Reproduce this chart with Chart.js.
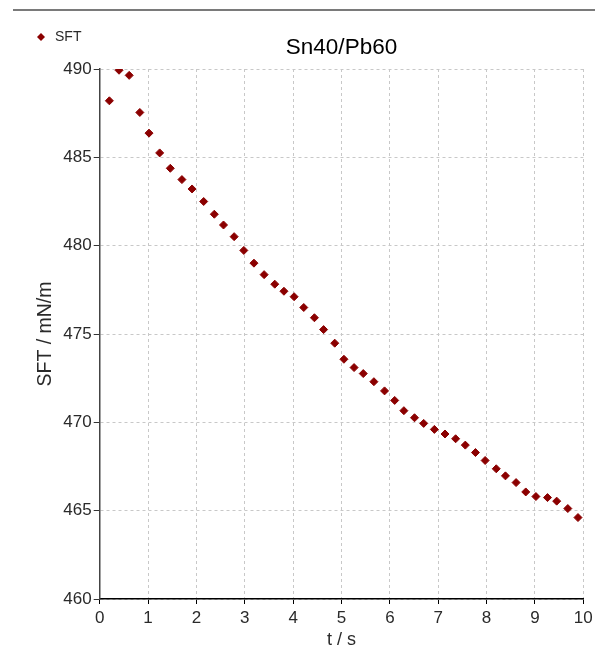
<!DOCTYPE html>
<html lang="en">
  <head>
    <meta charset="UTF-8" />
    <title>Sn40/Pb60</title>
    <script src="https://cdn.jsdelivr.net/npm/chart.js"></script>
    <style>
      html, body { margin: 0; padding: 0; background: #fff; }
    </style>
  </head>
  <body>
    <canvas id="sftChart" width="595" height="650"></canvas>

    <script>
      // time (s) and surface tension (mN/m)
      const times = [
        0.20, 0.40, 0.61, 0.83, 1.02, 1.24, 1.46, 1.70, 1.91, 2.15,
        2.37, 2.56, 2.78, 2.98, 3.19, 3.40, 3.62, 3.81, 4.02, 4.22,
        4.44, 4.63, 4.86, 5.05, 5.26, 5.45, 5.67, 5.89, 6.10, 6.29,
        6.51, 6.70, 6.92, 7.14, 7.36, 7.56, 7.77, 7.97, 8.20, 8.39,
        8.61, 8.81, 9.02, 9.26, 9.45, 9.68, 9.89,
      ];
      const sft = [
        488.20, 489.93, 489.64, 487.54, 486.37, 485.25, 484.38, 483.74, 483.21, 482.50,
        481.78, 481.17, 480.51, 479.73, 479.01, 478.36, 477.82, 477.42, 477.11, 476.50,
        475.92, 475.25, 474.48, 473.57, 473.10, 472.76, 472.30, 471.78, 471.24, 470.66,
        470.26, 469.94, 469.60, 469.34, 469.07, 468.71, 468.29, 467.84, 467.37, 466.97,
        466.59, 466.06, 465.80, 465.74, 465.54, 465.12, 464.61,
      ];
      const xTicks = [0, 1, 2, 3, 4, 5, 6, 7, 8, 9, 10];
      const yTicks = [460, 465, 470, 475, 480, 485, 490];

      const FONT = '"Liberation Sans", Arial, sans-serif';
      const TEXT = '#2a2a2a';
      const RED = '#8b0000';

      // top rule + legend in the top-left corner
      const decorations = {
        id: 'decorations',
        afterDraw(chart) {
          const ctx = chart.ctx;
          ctx.save();
          ctx.strokeStyle = '#7a7a7a';
          ctx.lineWidth = 2;
          ctx.beginPath();
          ctx.moveTo(13, 10);
          ctx.lineTo(595, 10);
          ctx.stroke();

          const ds = chart.data.datasets[0];
          ctx.fillStyle = ds.backgroundColor;
          ctx.beginPath();
          ctx.moveTo(41, 33);
          ctx.lineTo(45, 37);
          ctx.lineTo(41, 41);
          ctx.lineTo(37, 37);
          ctx.closePath();
          ctx.fill();

          ctx.fillStyle = TEXT;
          ctx.font = '14px ' + FONT;
          ctx.textBaseline = 'middle';
          ctx.fillText(ds.label, 55, 37);
          ctx.restore();
        },
      };

      const ctxSft = document.getElementById('sftChart').getContext('2d');
      const sftChart = new Chart(ctxSft, {
        type: 'scatter',
        data: {
          datasets: [
            {
              label: 'SFT',
              data: times.map((t, i) => ({ x: t, y: sft[i] })),
              backgroundColor: RED,
              borderColor: RED,
              borderWidth: 1,
              pointStyle: 'rectRot',
              pointRadius: 4,
            },
          ],
        },
        options: {
          responsive: false,
          animation: false,
          layout: {
            padding: { left: 0, right: 11.7, top: 0, bottom: 0 },
          },
          plugins: {
            legend: { display: false },
            tooltip: { enabled: false },
            title: {
              display: true,
              fullSize: false,
              text: 'Sn40/Pb60',
              color: '#000',
              font: { family: FONT, size: 22.5, weight: 'normal' },
              padding: { top: 34.5, bottom: 7.5 },
            },
          },
          scales: {
            x: {
              type: 'linear',
              min: 0,
              max: 10,
              afterBuildTicks: (axis) => {
                axis.ticks = xTicks.map((v) => ({ value: v }));
              },
              afterFit: (axis) => {
                axis.height = 51;
                axis.paddingLeft = 0;
                axis.paddingRight = 0;
              },
              ticks: {
                color: TEXT,
                font: { family: FONT, size: 17 },
                padding: 4,
                maxRotation: 0,
                autoSkip: false,
              },
              grid: {
                color: '#c8c8c8',
                tickColor: '#000',
                tickLength: 5,
              },
              border: { color: '#000', width: 1.5, dash: [3, 3] },
              title: {
                display: true,
                text: 't / s',
                color: TEXT,
                font: { family: FONT, size: 18 },
                padding: { top: 0, bottom: -1 },
              },
            },
            y: {
              type: 'linear',
              min: 460,
              max: 490,
              afterBuildTicks: (axis) => {
                axis.ticks = yTicks.map((v) => ({ value: v }));
              },
              afterFit: (axis) => {
                axis.width = 99.7;
                axis.paddingTop = 0;
                axis.paddingBottom = 0;
              },
              ticks: {
                color: TEXT,
                font: { family: FONT, size: 17 },
                padding: 2,
                autoSkip: false,
              },
              grid: {
                color: '#c8c8c8',
                tickColor: '#333',
                tickLength: 6,
              },
              border: { color: '#444', width: 1.5, dash: [3, 3] },
              title: {
                display: true,
                text: 'SFT / mN/m',
                color: TEXT,
                font: { family: FONT, size: 19.5 },
                padding: { top: 34, bottom: 0 },
              },
            },
          },
        },
        plugins: [decorations],
      });
    </script>
  </body>
</html>
